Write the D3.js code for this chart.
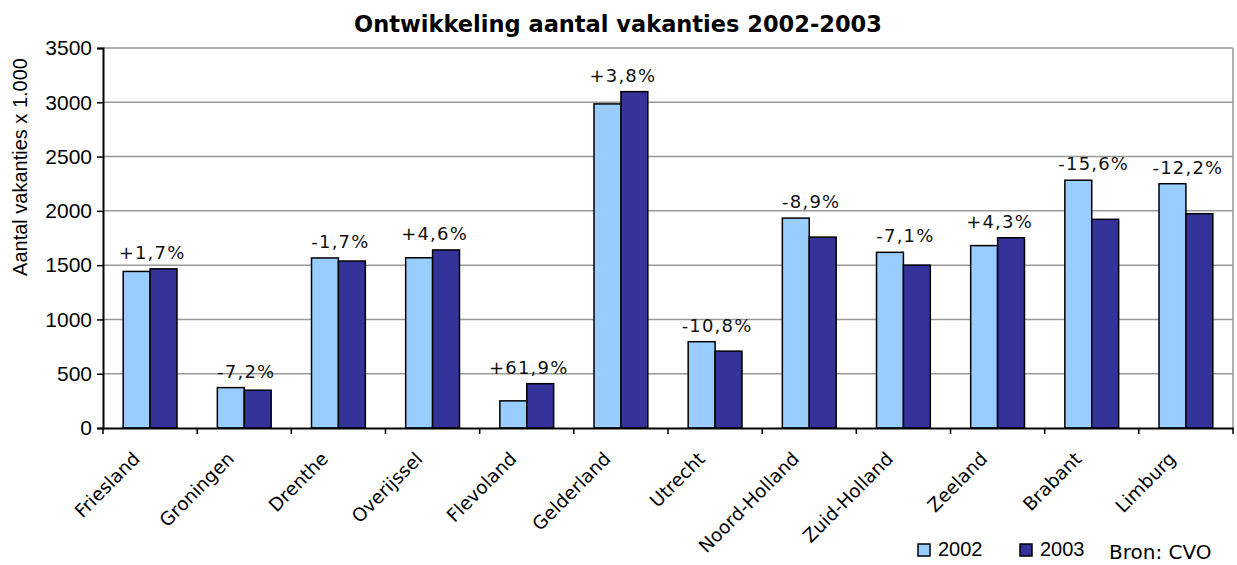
<!DOCTYPE html>
<html>
<head>
<meta charset="utf-8">
<script src="https://cdn.jsdelivr.net/npm/d3@7"></script>
<style>
  body { margin: 0; background: #fff; }
  svg { display: block; }
</style>
</head>
<body>
<div id="chart"></div>
<script>
// chart data
const provinces = ["Friesland", "Groningen", "Drenthe", "Overijssel", "Flevoland", "Gelderland",
  "Utrecht", "Noord-Holland", "Zuid-Holland", "Zeeland", "Brabant", "Limburg"];
const years = ["2002", "2003"];
const values2002 = [1442, 372, 1566, 1568, 250, 2985, 795, 1933, 1618, 1680, 2282, 2250];
const values2003 = [1466, 348, 1538, 1640, 408, 3098, 708, 1758, 1500, 1752, 1922, 1974];
const changes = ["+1,7%", "-7,2%", "-1,7%", "+4,6%", "+61,9%", "+3,8%", "-10,8%", "-8,9%", "-7,1%", "+4,3%", "-15,6%", "-12,2%"];
const yTicks = [0, 500, 1000, 1500, 2000, 2500, 3000, 3500];

const width = 1237;
const height = 565;
const margin = {left: 103, right: 4, top: 48, bottom: 137};
const colors = {"2002": "#99ccff", "2003": "#333399"};

const svg = d3.select("#chart")
  .append("svg")
  .attr("width", width)
  .attr("height", height);

// scales
const x0 = d3.scaleBand()
  .domain(provinces)
  .range([margin.left, width - margin.right])
  .padding(0);

const x1 = d3.scaleBand()
  .domain(years)
  .range([0, x0.bandwidth()])
  .paddingInner(0)
  .paddingOuter(0.75);

const y = d3.scaleLinear()
  .domain([0, 3500])
  .range([height - margin.bottom, margin.top]);

// title
svg.append("text")
  .attr("x", 618)
  .attr("y", 32)
  .attr("text-anchor", "middle")
  .attr("font-family", "DejaVu Sans, Verdana, sans-serif")
  .attr("font-weight", "bold")
  .attr("font-size", "22.5px")
  .text("Ontwikkeling aantal vakanties 2002-2003");

// gridlines
svg.append("g")
  .selectAll("line")
  .data(yTicks.filter(d => d > 0))
  .join("line")
  .attr("x1", margin.left)
  .attr("x2", width - margin.right)
  .attr("y1", d => y(d))
  .attr("y2", d => y(d))
  .attr("stroke", "#999")
  .attr("stroke-width", 1.5);

// right border of plot area
svg.append("line")
  .attr("x1", width - margin.right).attr("x2", width - margin.right)
  .attr("y1", margin.top).attr("y2", height - margin.bottom)
  .attr("stroke", "#999")
  .attr("stroke-width", 1.5);

// bars
const rows = provinces.map((p, i) => ({name: p, v: {"2002": values2002[i], "2003": values2003[i]}, change: changes[i]}));

const groups = svg.append("g")
  .selectAll("g")
  .data(rows)
  .join("g")
  .attr("transform", d => `translate(${x0(d.name)},0)`);

groups.selectAll("rect")
  .data(d => years.map(yr => ({year: yr, value: d.v[yr]})))
  .join("rect")
  .attr("x", d => x1(d.year))
  .attr("y", d => y(d.value))
  .attr("width", x1.bandwidth())
  .attr("height", d => y(0) - y(d.value))
  .attr("fill", d => colors[d.year])
  .attr("stroke", "#000")
  .attr("stroke-width", 1.5);

// percentage labels above each group
groups.append("text")
  .attr("x", x0.bandwidth() / 2 + 2)
  .attr("y", d => y(Math.max(d.v["2002"], d.v["2003"])) - 10)
  .attr("text-anchor", "middle")
  .attr("font-family", "DejaVu Sans, Verdana, sans-serif")
  .attr("font-size", "18px")
  .attr("letter-spacing", "1.2px")
  .attr("fill", "#111")
  .text(d => d.change);

// y axis
const yAxis = svg.append("g")
  .attr("transform", `translate(${margin.left},0)`)
  .call(d3.axisLeft(y).tickValues(yTicks).tickSize(6).tickPadding(5).tickFormat(d3.format("d")));
yAxis.select(".domain").attr("stroke-width", 2);
yAxis.selectAll(".tick line").attr("stroke-width", 1.5);
yAxis.selectAll("text")
  .attr("font-family", "Liberation Sans, Arial, sans-serif")
  .attr("font-size", "21px")
  .attr("fill", "#000");

// x axis
const xAxis = svg.append("g")
  .attr("transform", `translate(0,${height - margin.bottom})`)
  .call(d3.axisBottom(x0).tickSize(0).tickFormat(""));
xAxis.select(".domain").attr("stroke-width", 2);

// category boundary ticks
svg.append("g")
  .selectAll("line")
  .data(provinces.concat(["end"]))
  .join("line")
  .attr("x1", (d, i) => i < provinces.length ? x0(d) : width - margin.right)
  .attr("x2", (d, i) => i < provinces.length ? x0(d) : width - margin.right)
  .attr("y1", height - margin.bottom)
  .attr("y2", height - margin.bottom + 6)
  .attr("stroke", "#000")
  .attr("stroke-width", 1.5);

// rotated category labels
svg.append("g")
  .selectAll("text")
  .data(provinces)
  .join("text")
  .attr("transform", d => `translate(${x0(d) + x0.bandwidth() / 2 - 9},${height - margin.bottom + 32}) rotate(-45)`)
  .attr("text-anchor", "end")
  .attr("font-family", "DejaVu Sans, Verdana, sans-serif")
  .attr("font-size", "18.5px")
  .text(d => d);

// y axis title
svg.append("text")
  .attr("transform", "translate(27,167) rotate(-90)")
  .attr("text-anchor", "middle")
  .attr("font-family", "Liberation Sans, Arial, sans-serif")
  .attr("font-size", "20px")
  .text("Aantal vakanties x 1.000");

// legend
const legend = svg.append("g")
  .selectAll("g")
  .data(years)
  .join("g")
  .attr("transform", (d, i) => `translate(${918 + i * 102},544)`);

legend.append("rect")
  .attr("width", 12)
  .attr("height", 12)
  .attr("fill", d => colors[d])
  .attr("stroke", "#000")
  .attr("stroke-width", 1.5);

legend.append("text")
  .attr("x", 20)
  .attr("y", 12)
  .attr("font-family", "Liberation Sans, Arial, sans-serif")
  .attr("font-size", "20px")
  .text(d => d);

svg.append("text")
  .attr("x", 1109)
  .attr("y", 559)
  .attr("font-family", "DejaVu Sans, Verdana, sans-serif")
  .attr("font-size", "20px")
  .text("Bron: CVO");
</script>
</body>
</html>
